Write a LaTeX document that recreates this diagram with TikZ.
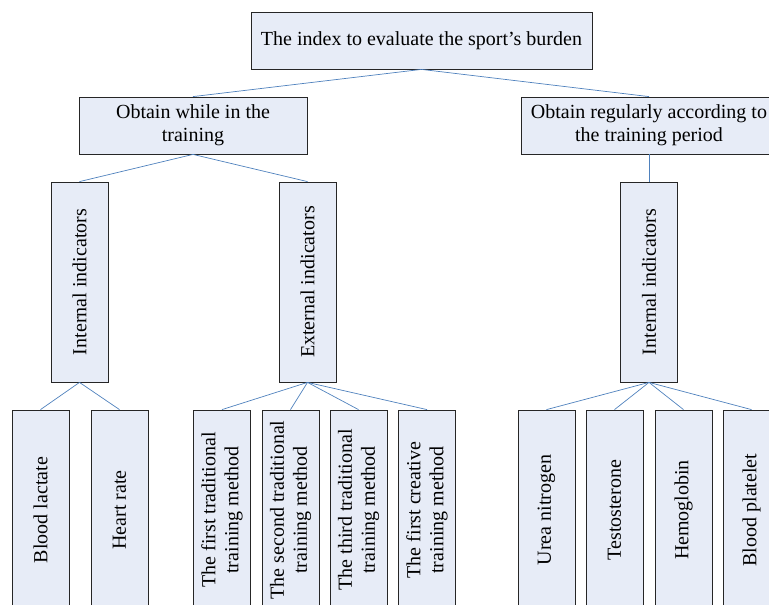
\documentclass[tikz,border=0pt]{standalone}
\usepackage{fontspec}
\setmainfont{Liberation Serif}
\usetikzlibrary{positioning}
\definecolor{boxfill}{RGB}{231,236,247}
\definecolor{linkblue}{RGB}{79,129,189}

\begin{document}
\begin{tikzpicture}[x=1pt, y=-1pt,
        box/.style={draw=black!85, fill=boxfill, line width=0.8pt, align=center, inner sep=2pt, font=\fontsize{20}{23}\selectfont},
        hbox/.style={box, minimum height=57pt},
        vbox/.style={box, rotate=90, minimum width=200pt, minimum height=57pt},
        link/.style={linkblue, line width=0.7pt}]
        \useasboundingbox (0, 0) rectangle (769, 605);
        \clip (0, 0) rectangle (769, 605);
        
        \node[hbox, minimum width=341pt] (root) at (421.5, 40.5) {The index to evaluate the sport’s burden};
        \node[hbox, minimum width=228pt] (train) at (193, 125.5) {Obtain while in the\\training};
        \node[hbox, minimum width=256pt] (period) at (649, 125.5) {Obtain regularly according to\\the training period};
        
        \node[vbox] (inL) at (79.5, 282) {Internal indicators};
        \node[vbox] (ext) at (307.5, 282) {External indicators};
        \node[vbox] (inR) at (649, 282) {Internal indicators};
        
        \node[vbox] (lactate) at (40.5, 510) {Blood lactate};
        \node[vbox] (heart) at (119.5, 510) {Heart rate};
        \node[vbox] (trad1) at (222, 510) {The first traditional\\training method};
        \node[vbox] (trad2) at (290.5, 510) {The second traditional\\training method};
        \node[vbox] (trad3) at (358.5, 510) {The third traditional\\training method};
        \node[vbox] (creat1) at (427, 510) {The first creative\\training method};
        \node[vbox] (urea) at (546.5, 510) {Urea nitrogen};
        \node[vbox] (testo) at (614.5, 510) {Testosterone};
        \node[vbox] (hemo) at (683.5, 510) {Hemoglobin};
        \node[vbox] (platelet) at (751.5, 510) {Blood platelet};
        
        \draw[link] (root.south) -- (train.north);
        \draw[link] (root.south) -- (period.north);
        \draw[link] (train.south) -- (inL.east);
        \draw[link] (train.south) -- (ext.east);
        \draw[link] (period.south) -- (inR.east);
        \draw[link] (inL.west) -- (lactate.east);
        \draw[link] (inL.west) -- (heart.east);
        \draw[link] (ext.west) -- (trad1.east);
        \draw[link] (ext.west) -- (trad2.east);
        \draw[link] (ext.west) -- (trad3.east);
        \draw[link] (ext.west) -- (creat1.east);
        \draw[link] (inR.west) -- (urea.east);
        \draw[link] (inR.west) -- (testo.east);
        \draw[link] (inR.west) -- (hemo.east);
        \draw[link] (inR.west) -- (platelet.east);
        
      \end{tikzpicture}
\end{document}
